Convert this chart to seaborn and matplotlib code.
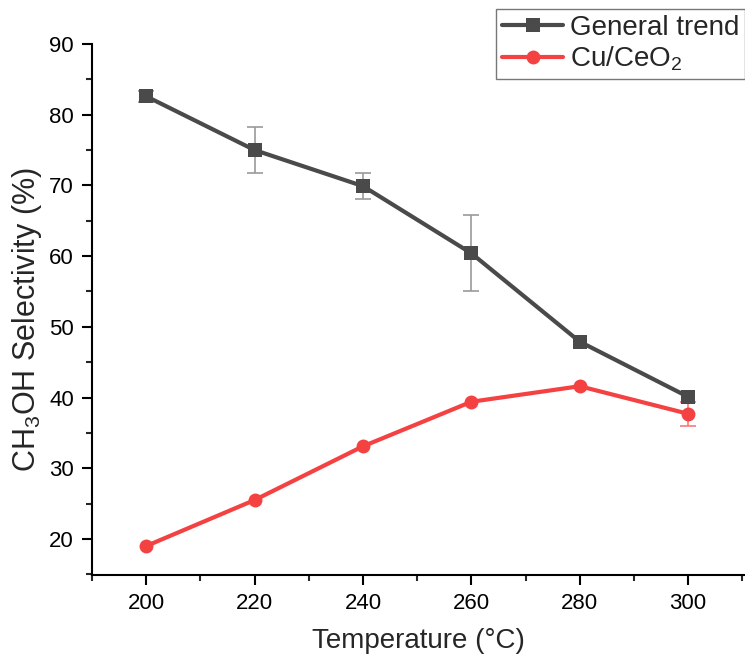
import matplotlib
matplotlib.use("Agg")
import matplotlib.pyplot as plt
import seaborn as sns
import pandas as pd
from matplotlib.ticker import MultipleLocator

temperature = [200, 220, 240, 260, 280, 300]
general_trend = [82.6, 75.0, 69.9, 60.4, 47.9, 40.1]
general_err = [0.8, 3.2, 1.8, 5.4, 0.0, 0.0]
cu_ceo2 = [19.0, 25.5, 33.1, 39.4, 41.6, 37.7]
cu_err = [0.0, 0.0, 0.0, 0.0, 0.0, 1.7]

sns.set_theme(style="ticks")
plt.rcParams['font.family'] = ['Liberation Sans', 'DejaVu Sans']
plt.rcParams['mathtext.fontset'] = 'custom'
plt.rcParams['mathtext.rm'] = 'Liberation Sans'
plt.rcParams['mathtext.it'] = 'Liberation Sans'

df = pd.DataFrame({
    "T": temperature * 2,
    "val": general_trend + cu_ceo2,
    "series": ["General trend"] * 6 + ["Cu/CeO$_2$"] * 6,
})

gray = "#4a4a4a"
red = "#f44242"

fig = plt.figure(figsize=(7.45, 6.6), dpi=100)
ax = fig.add_axes([92/745, 1 - 575/660, 1 - 92/745, (575 - 44)/660])


def draw_err(xs, ys, es, color):
    sel = [(x, y, e) for x, y, e in zip(xs, ys, es) if e > 0]
    if sel:
        ax.errorbar([s[0] for s in sel], [s[1] for s in sel], yerr=[s[2] for s in sel],
                    fmt="none", ecolor=color, elinewidth=1.2, capsize=6,
                    capthick=1.2, zorder=1)


draw_err(temperature, general_trend, general_err, "#999999")
draw_err(temperature, cu_ceo2, cu_err, "#f77a7a")

sns.lineplot(data=df, x="T", y="val", hue="series", style="series",
             markers={"General trend": "s", "Cu/CeO$_2$": "o"}, dashes=False,
             palette={"General trend": gray, "Cu/CeO$_2$": red},
             linewidth=3, markersize=10, markeredgewidth=0, ax=ax, zorder=2)

ax.set_xlim(190, 310.5)
ax.set_ylim(14.9, 90)
ax.xaxis.set_major_locator(MultipleLocator(20))
ax.xaxis.set_minor_locator(MultipleLocator(10))
ax.yaxis.set_major_locator(MultipleLocator(10))
ax.yaxis.set_minor_locator(MultipleLocator(5))
ax.tick_params(which="major", direction="out", length=7, width=1.5, labelsize=16,
               colors="black", pad=6)
ax.tick_params(which="minor", direction="out", length=4, width=1.5)
for s in ["top", "right"]:
    ax.spines[s].set_visible(False)
for s in ["left", "bottom"]:
    ax.spines[s].set_linewidth(1.5)
    ax.spines[s].set_color("black")

ax.set_xlabel("Temperature (°C)", fontsize=20, labelpad=10)
ax.set_ylabel("CH$_3$OH Selectivity (%)", fontsize=22)
ax.yaxis.set_label_coords(-0.074, 0.48)

handles, labels = ax.get_legend_handles_labels()
leg = fig.legend(handles, labels, loc="upper right", bbox_to_anchor=(1.0, 0.986),
                 fontsize=20, frameon=True, fancybox=False, handlelength=2.2,
                 borderpad=0.2, labelspacing=0.15, handletextpad=0.25, borderaxespad=0)
leg.get_frame().set_edgecolor("#555555")
leg.get_frame().set_linewidth(1.0)
if ax.get_legend():
    ax.get_legend().remove()

fig.savefig("out.png", dpi=100)
